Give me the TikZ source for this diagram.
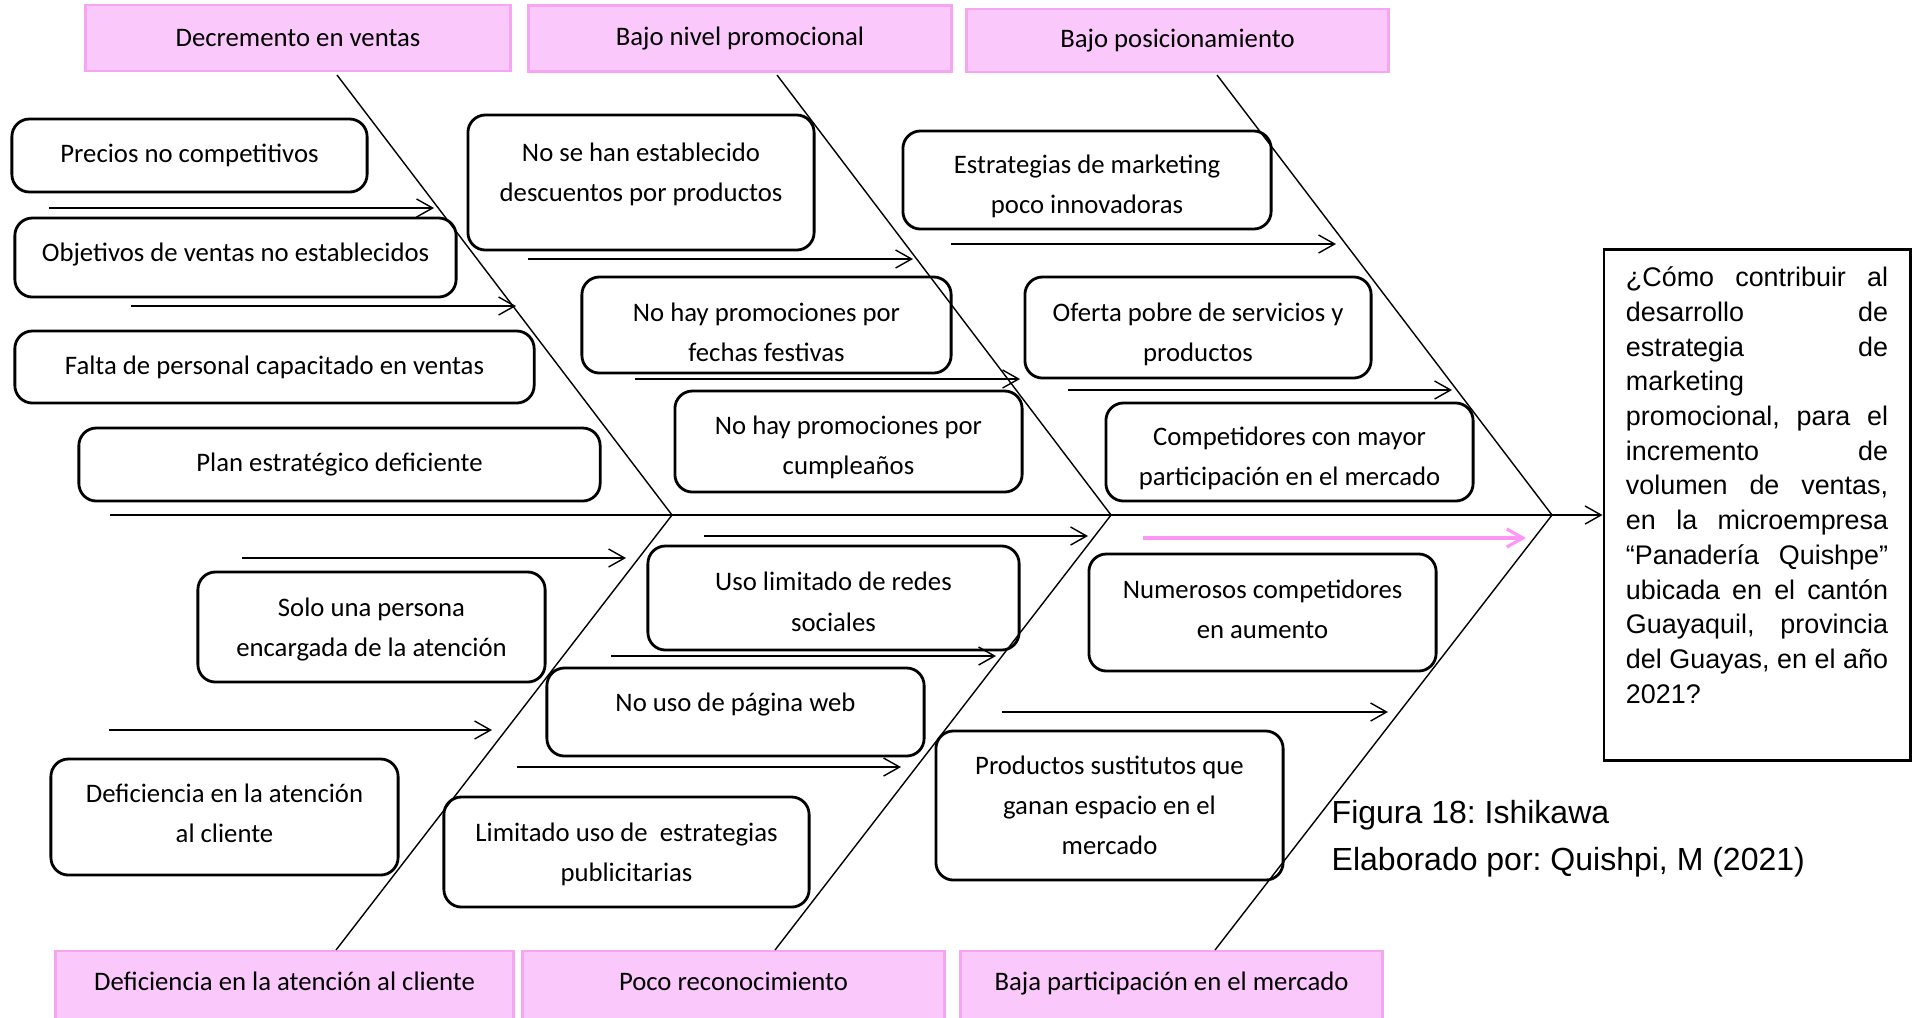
\documentclass[tikz,border=0pt]{standalone}
\usepackage{fontspec}
\newfontfamily\calfont{Carlito}
\newfontfamily\arialfont{Liberation Sans}
\usetikzlibrary{arrows.meta}
\definecolor{pinkfill}{RGB}{251,200,251}
\definecolor{pinkline}{RGB}{246,165,240}
\definecolor{pinkarrow}{RGB}{255,150,245}
\frenchspacing
\newcommand\jline[1]{\makebox[\linewidth][s]{#1}\\}
% push the lines of a box down (top) or up (bottom)
\newcommand\padtop[1]{\mbox{}\\[#1]}
\newcommand\padbot[1]{\\[#1]\mbox{}}

\begin{document}
\begin{tikzpicture}[
  x=0.01cm, y=-0.01cm,
  font=\calfont\fontsize{7.6}{11.4}\selectfont,
  cause/.style ={draw, rounded corners=5pt, line width=0.8pt, align=center, inner sep=0pt},
  effect/.style={draw=pinkline, fill=pinkfill, line width=0.8pt, align=center, inner sep=0pt},
  lower/.style ={effect, text height=0.19cm, text depth=0.11cm},
  bone/.style  ={line width=0.4pt},
  arr/.style   ={line width=0.4pt, -{Straight Barb[length=1.6mm,width=1.8mm]}}
]
\useasboundingbox (0,0) rectangle (1916,1017);

% effects (top and bottom)
\node[effect, minimum width=4.24cm, minimum height=0.66cm] (dec)  at (298,38)     {Decremento en ventas};
\node[effect, minimum width=4.22cm, minimum height=0.66cm] (prom) at (740,38.5)   {Bajo nivel promocional};
\node[effect, minimum width=4.21cm, minimum height=0.63cm] (posi) at (1177.5,40.5) {Bajo posicionamiento};
\node[lower, minimum width=4.57cm, minimum height=0.70cm] (aten) at (284.5,986)  {Deficiencia en la atención al cliente};
\node[lower, minimum width=4.21cm, minimum height=0.70cm] (reco) at (733.5,986)  {Poco reconocimiento};
\node[lower, minimum width=4.21cm, minimum height=0.70cm] (part) at (1171.5,986) {Baja participación en el mercado};

% causes
\node[cause, minimum width=3.55cm, minimum height=0.73cm] (precios)     at (189.5,155.5) {Precios no competitivos};
\node[cause, minimum width=4.41cm, minimum height=0.79cm, text height=0.19cm, text depth=0.12cm] (objetivos) at (235.5,257.5) {Objetivos de ventas no establecidos};
\node[cause, minimum width=5.19cm, minimum height=0.72cm] (personal)    at (274.5,367)   {Falta de personal capacitado en ventas};
\node[cause, minimum width=5.21cm, minimum height=0.73cm] (plan)        at (339.5,464.5) {Plan estratégico deficiente};

\node[cause, minimum width=3.46cm, minimum height=1.35cm] (descuentos)  at (641,182.5)   {No se han establecido\\descuentos por productos\padbot{-0.19cm}};
\node[cause, minimum width=3.69cm, minimum height=0.96cm] (festivas)    at (766.5,325)   {\padtop{-0.07cm}No hay promociones por\\fechas festivas};
\node[cause, minimum width=3.47cm, minimum height=1.01cm] (cumple)      at (848.5,441.5) {\padtop{-0.09cm}No hay promociones por\\cumpleaños};

\node[cause, minimum width=3.68cm, minimum height=0.98cm] (estrategias) at (1087,180)    {\padtop{-0.09cm}Estrategias de marketing\\poco innovadoras};
\node[cause, minimum width=3.46cm, minimum height=1.01cm] (oferta)      at (1198,327.5)  {\padtop{-0.07cm}Oferta pobre de servicios y\\productos};
\node[cause, minimum width=3.67cm, minimum height=0.98cm] (competidores) at (1289.5,452) {\padtop{-0.09cm}Competidores con mayor\\participación en el mercado};

\node[cause, minimum width=3.47cm, minimum height=1.10cm] (persona)     at (371.5,627)   {\padtop{-0.16cm}Solo una persona\\encargada de la atención};
\node[cause, minimum width=3.47cm, minimum height=1.16cm] (deficiencia) at (224.5,817)   {Deficiencia en la atención\\al cliente\padbot{-0.33cm}};

\node[cause, minimum width=3.71cm, minimum height=1.04cm] (redes)       at (833.5,598)   {\padtop{-0.14cm}Uso limitado de redes\\sociales};
\node[cause, minimum width=3.77cm, minimum height=0.88cm, text height=0.19cm, text depth=0.21cm] (web) at (735.5,712) {No uso de página web};
\node[cause, minimum width=3.65cm, minimum height=1.10cm] (publicidad)  at (626.5,852)   {\padtop{-0.16cm}Limitado uso de~ estrategias\\publicitarias};

\node[cause, minimum width=3.47cm, minimum height=1.17cm] (numerosos)   at (1262.5,612.5) {Numerosos competidores\\en aumento\padbot{-0.33cm}};
\node[cause, minimum width=3.47cm, minimum height=1.49cm] (sustitutos)  at (1109.5,805.5) {Productos sustitutos que\\ganan espacio en el\\mercado};

% problem
\node[draw, line width=0.8pt, inner sep=0pt, minimum width=3.06cm, minimum height=5.10cm,
      font=\arialfont\fontsize{7.65}{9.87}\selectfont] (question) at (1757,505)
  {\parbox[c][4.76cm][t]{2.62cm}{%
    \jline{¿Cómo contribuir al}
    \jline{desarrollo de}
    \jline{estrategia de}
    marketing\\
    \jline{promocional, para el}
    \jline{incremento de}
    \jline{volumen de ventas,}
    \jline{en la microempresa}
    \jline{“Panadería Quishpe”}
    \jline{ubicada en el cantón}
    \jline{Guayaquil, provincia}
    \jline{del Guayas, en el año}
    2021?}};

\node[anchor=west, align=left, inner sep=0pt,
      font=\arialfont\fontsize{9.1}{13.4}\selectfont] (caption) at (1331,839)
  {Figura 18: Ishikawa\\Elaborado por: Quishpi, M (2021)};

% spine and bones
\coordinate (tail)  at (110,515);
\coordinate (apex1) at (672,515);
\coordinate (apex2) at (1111,515);
\coordinate (apex3) at (1552,515);
\coordinate (top1) at (337,75);  \coordinate (bot1) at (336,950);
\coordinate (top2) at (777,75);  \coordinate (bot2) at (775,950);
\coordinate (top3) at (1217,75); \coordinate (bot3) at (1215,950);

\draw[arr] (tail) -- (tail -| question.west);
\foreach \i in {1,2,3}
  \draw[bone] (top\i) -- (apex\i) -- (bot\i);

% small arrows
\foreach \n/\y/\xa/\xb in {a1/208/49/434, a2/306/131/516,
    b1/259/528/913, b2/379/635/1020,
    c1/244/951/1336, c2/390/1068/1452,
    d1/558/242/626, d2/730/109/492,
    e1/536/704/1088, e2/656/611/996, e3/767/517/901,
    f2/712/1002/1388} {
  \coordinate (\n s) at (\xa,\y);
  \coordinate (\n e) at (\xb,\y);
  \draw[arr] (\n s) -- (\n e);
}
\coordinate (f1s) at (1143,538);
\coordinate (f1e) at (1526,538);
\draw[arr, draw=pinkarrow, line width=0.9pt] (f1s) -- (f1e);
\end{tikzpicture}
\end{document}
